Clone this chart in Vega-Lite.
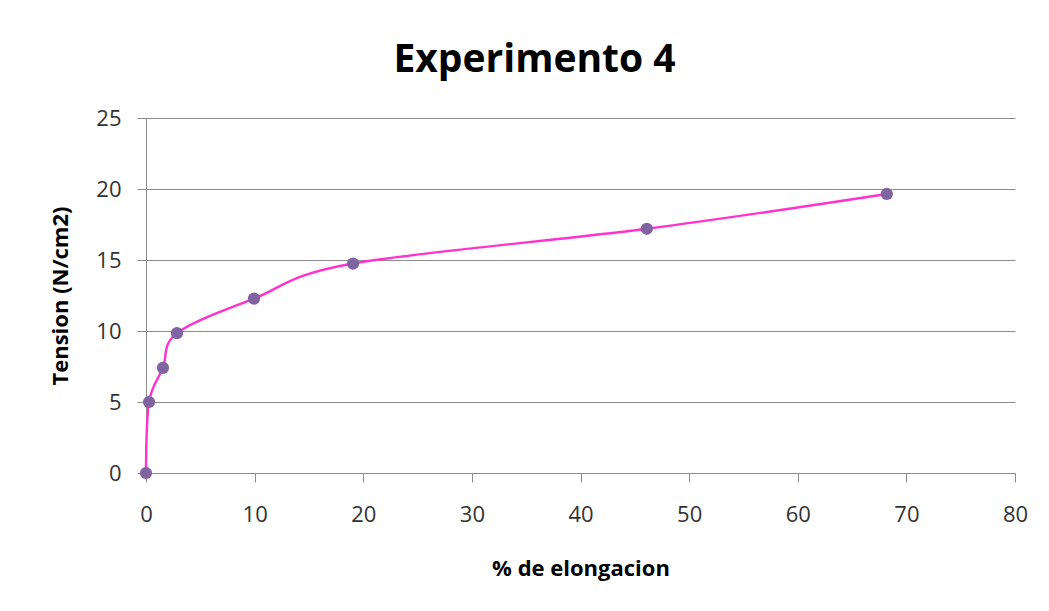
{
  "$schema": "https://vega.github.io/schema/vega-lite/v6.json",
  "autosize": "none",
  "width": 869,
  "height": 355,
  "padding": {"left": 146, "top": 118, "right": 34, "bottom": 138},
  "background": "white",
  "title": {
    "text": "Experimento 4",
    "font": "Open Sans",
    "fontSize": 39,
    "fontWeight": "bold",
    "color": "#000000",
    "anchor": "middle",
    "offset": 27,
    "dx": -46
  },
  "data": {
    "values": [
      {"elong": 0, "tension": 0},
      {"elong": 0.28, "tension": 5.0},
      {"elong": 1.56, "tension": 7.4},
      {"elong": 2.85, "tension": 9.85},
      {"elong": 9.94, "tension": 12.28},
      {"elong": 19.06, "tension": 14.75},
      {"elong": 46.1, "tension": 17.2},
      {"elong": 68.2, "tension": 19.65}
    ]
  },
  "config": {
    "view": {"stroke": null},
    "axis": {
      "labelFont": "Open Sans",
      "labelFontSize": 22,
      "labelColor": "#333333",
      "titleFont": "Open Sans",
      "titleFontSize": 22,
      "titleFontWeight": "bold",
      "titleColor": "#000000",
      "domainColor": "#8c8c8c",
      "tickColor": "#8c8c8c",
      "gridColor": "#8c8c8c",
      "gridWidth": 1,
      "domainWidth": 1,
      "tickSize": 9
    }
  },
  "encoding": {
    "x": {
      "field": "elong",
      "type": "quantitative",
      "scale": {"domain": [0, 80], "nice": false},
      "axis": {
        "title": "% de elongacion",
        "values": [0, 10, 20, 30, 40, 50, 60, 70, 80],
        "grid": false,
        "labelFlush": false,
        "labelPadding": 22,
        "titlePadding": 33
      }
    },
    "y": {
      "field": "tension",
      "type": "quantitative",
      "scale": {"domain": [0, 25], "nice": false},
      "axis": {
        "title": "Tension (N/cm2)",
        "values": [0, 5, 10, 15, 20, 25],
        "grid": true,
        "labelPadding": 16,
        "titlePadding": 23
      }
    }
  },
  "layer": [
    {
      "mark": {"type": "line", "interpolate": "cardinal", "color": "#FF33CC", "strokeWidth": 2.4}
    },
    {
      "mark": {"type": "point", "filled": true, "color": "#8064A2", "size": 150, "opacity": 1}
    }
  ]
}
